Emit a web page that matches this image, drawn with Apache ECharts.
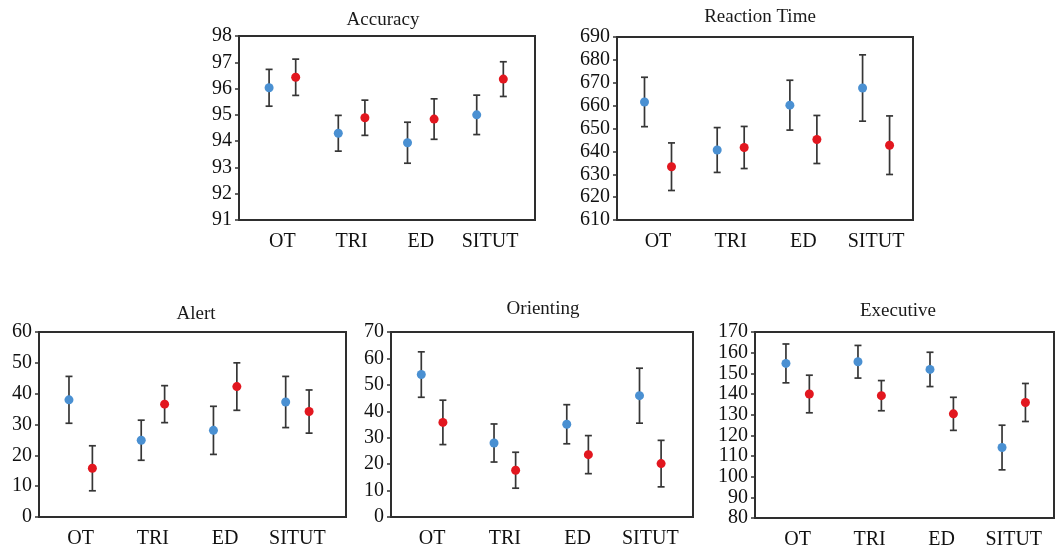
<!DOCTYPE html>
<html>
<head>
<meta charset="utf-8">
<script src="https://cdn.jsdelivr.net/npm/echarts@6/dist/echarts.min.js"></script>
<style>
html,body{margin:0;padding:0;background:#fff;}
#chart{width:1057px;height:551px;}
</style>
</head>
<body>
<div id="chart"></div>
<script>
// ---- data ----
const categories = ['OT', 'TRI', 'ED', 'SITUT'];

const accuracyBlue = [96.03, 94.30, 93.94, 95.00];
const accuracyBlueErr = [0.70, 0.68, 0.78, 0.75];
const accuracyRed = [96.43, 94.89, 94.84, 96.36];
const accuracyRedErr = [0.69, 0.67, 0.77, 0.66];

const reactionBlue = [661.6, 640.6, 660.2, 667.7];
const reactionBlueErr = [10.8, 9.8, 10.9, 14.5];
const reactionRed = [633.3, 641.7, 645.2, 642.7];
const reactionRedErr = [10.4, 9.2, 10.5, 12.8];

const alertBlue = [38.0, 24.9, 28.1, 37.3];
const alertBlueErr = [7.6, 6.5, 7.8, 8.3];
const alertRed = [15.8, 36.6, 42.3, 34.2];
const alertRedErr = [7.3, 6.0, 7.7, 7.0];

const orientingBlue = [53.9, 28.0, 35.1, 45.9];
const orientingBlueErr = [8.6, 7.2, 7.4, 10.4];
const orientingRed = [35.8, 17.7, 23.6, 20.2];
const orientingRedErr = [8.4, 6.8, 7.2, 8.8];

const executiveBlue = [154.8, 155.6, 151.9, 114.1];
const executiveBlueErr = [9.4, 7.9, 8.3, 10.8];
const executiveRed = [140.0, 139.2, 130.4, 135.9];
const executiveRedErr = [9.1, 7.3, 8.0, 9.2];

const panelTitles = ['Accuracy', 'Reaction Time', 'Alert', 'Orienting', 'Executive'];
const yMin = [91, 610, 0, 0, 80];
const yMax = [98, 690, 60, 70, 170];
const yStep = [1, 10, 10, 10, 10];

// ---- layout / style ----
const BLUE = '#4a90d2';
const RED = '#e2171f';
const BAR = '#363636';
const FONT = '"Liberation Serif", "DejaVu Serif", serif';

const panels = [
  {blue: accuracyBlue, blueErr: accuracyBlueErr, red: accuracyRed, redErr: accuracyRedErr,
   grid: {left: 239, top: 36, width: 296, height: 184}, xr: [0.373, 4.65], off: 13.3,
   titleX: 378, titleY: 6},
  {blue: reactionBlue, blueErr: reactionBlueErr, red: reactionRed, redErr: reactionRedErr,
   grid: {left: 617, top: 37, width: 296, height: 183}, xr: [0.436, 4.508], off: 13.5,
   titleX: 755, titleY: 3},
  {blue: alertBlue, blueErr: alertBlueErr, red: alertRed, redErr: alertRedErr,
   grid: {left: 39, top: 332, width: 307, height: 185}, xr: [0.423, 4.673], off: 11.7,
   titleX: 191, titleY: 300},
  {blue: orientingBlue, blueErr: orientingBlueErr, red: orientingRed, redErr: orientingRedErr,
   grid: {left: 391, top: 332, width: 302, height: 185}, xr: [0.435, 4.587], off: 10.8,
   titleX: 538, titleY: 295},
  {blue: executiveBlue, blueErr: executiveBlueErr, red: executiveRed, redErr: executiveRedErr,
   grid: {left: 755, top: 332, width: 299, height: 186}, xr: [0.408, 4.559], off: 11.7,
   titleX: 893, titleY: 297}
];

function makeRender(color, dx) {
  return function (params, api) {
    const x = api.value(0), m = api.value(1), e = api.value(2);
    const c = api.coord([x, m]);
    const hi = api.coord([x, m + e]);
    const lo = api.coord([x, m - e]);
    const px = c[0] + dx;
    const cap = 3.5;
    const ls = {stroke: BAR, lineWidth: 1.7};
    return {
      type: 'group',
      children: [
        {type: 'line', shape: {x1: px, y1: hi[1], x2: px, y2: lo[1]}, style: ls},
        {type: 'line', shape: {x1: px - cap, y1: hi[1], x2: px + cap, y2: hi[1]}, style: ls},
        {type: 'line', shape: {x1: px - cap, y1: lo[1], x2: px + cap, y2: lo[1]}, style: ls},
        {type: 'circle', shape: {cx: px, cy: c[1], r: 4.5}, style: {fill: color}}
      ]
    };
  };
}

const option = {
  backgroundColor: '#ffffff',
  animation: false,
  title: [], grid: [], xAxis: [], yAxis: [], series: []
};

panels.forEach((p, i) => {
  option.title.push({
    text: panelTitles[i], left: p.titleX, top: p.titleY, textAlign: 'center',
    textStyle: {fontFamily: FONT, fontSize: 19, fontWeight: 'normal', color: '#1a1a1a'}
  });
  option.grid.push(Object.assign({
    show: true, borderColor: '#2e2e2e', borderWidth: 2, backgroundColor: 'transparent',
    containLabel: false, outerBoundsMode: 'none'
  }, p.grid));
  option.xAxis.push({
    type: 'value', gridIndex: i, min: p.xr[0], max: p.xr[1],
    axisLine: {show: false}, axisTick: {show: false}, splitLine: {show: false},
    axisLabel: {
      customValues: [1, 2, 3, 4],
      formatter: v => categories[Math.round(v) - 1] || '',
      fontFamily: FONT, fontSize: 20, color: '#111', margin: 12
    }
  });
  option.yAxis.push({
    type: 'value', gridIndex: i, min: yMin[i], max: yMax[i], interval: yStep[i],
    axisLine: {show: false},
    axisTick: {show: true, inside: false, length: 4, lineStyle: {color: '#333', width: 1.5}},
    splitLine: {show: false},
    axisLabel: {fontFamily: FONT, fontSize: 20, color: '#111', margin: 7}
  });
  const blueData = categories.map((c, k) => [k + 1, p.blue[k], p.blueErr[k]]);
  const redData = categories.map((c, k) => [k + 1, p.red[k], p.redErr[k]]);
  option.series.push({
    type: 'custom', xAxisIndex: i, yAxisIndex: i, data: blueData,
    renderItem: makeRender(BLUE, -p.off), clip: false
  });
  option.series.push({
    type: 'custom', xAxisIndex: i, yAxisIndex: i, data: redData,
    renderItem: makeRender(RED, p.off), clip: false
  });
});

const chart = echarts.init(document.getElementById('chart'), null, {renderer: 'canvas'});
chart.setOption(option);
</script>
</body>
</html>
